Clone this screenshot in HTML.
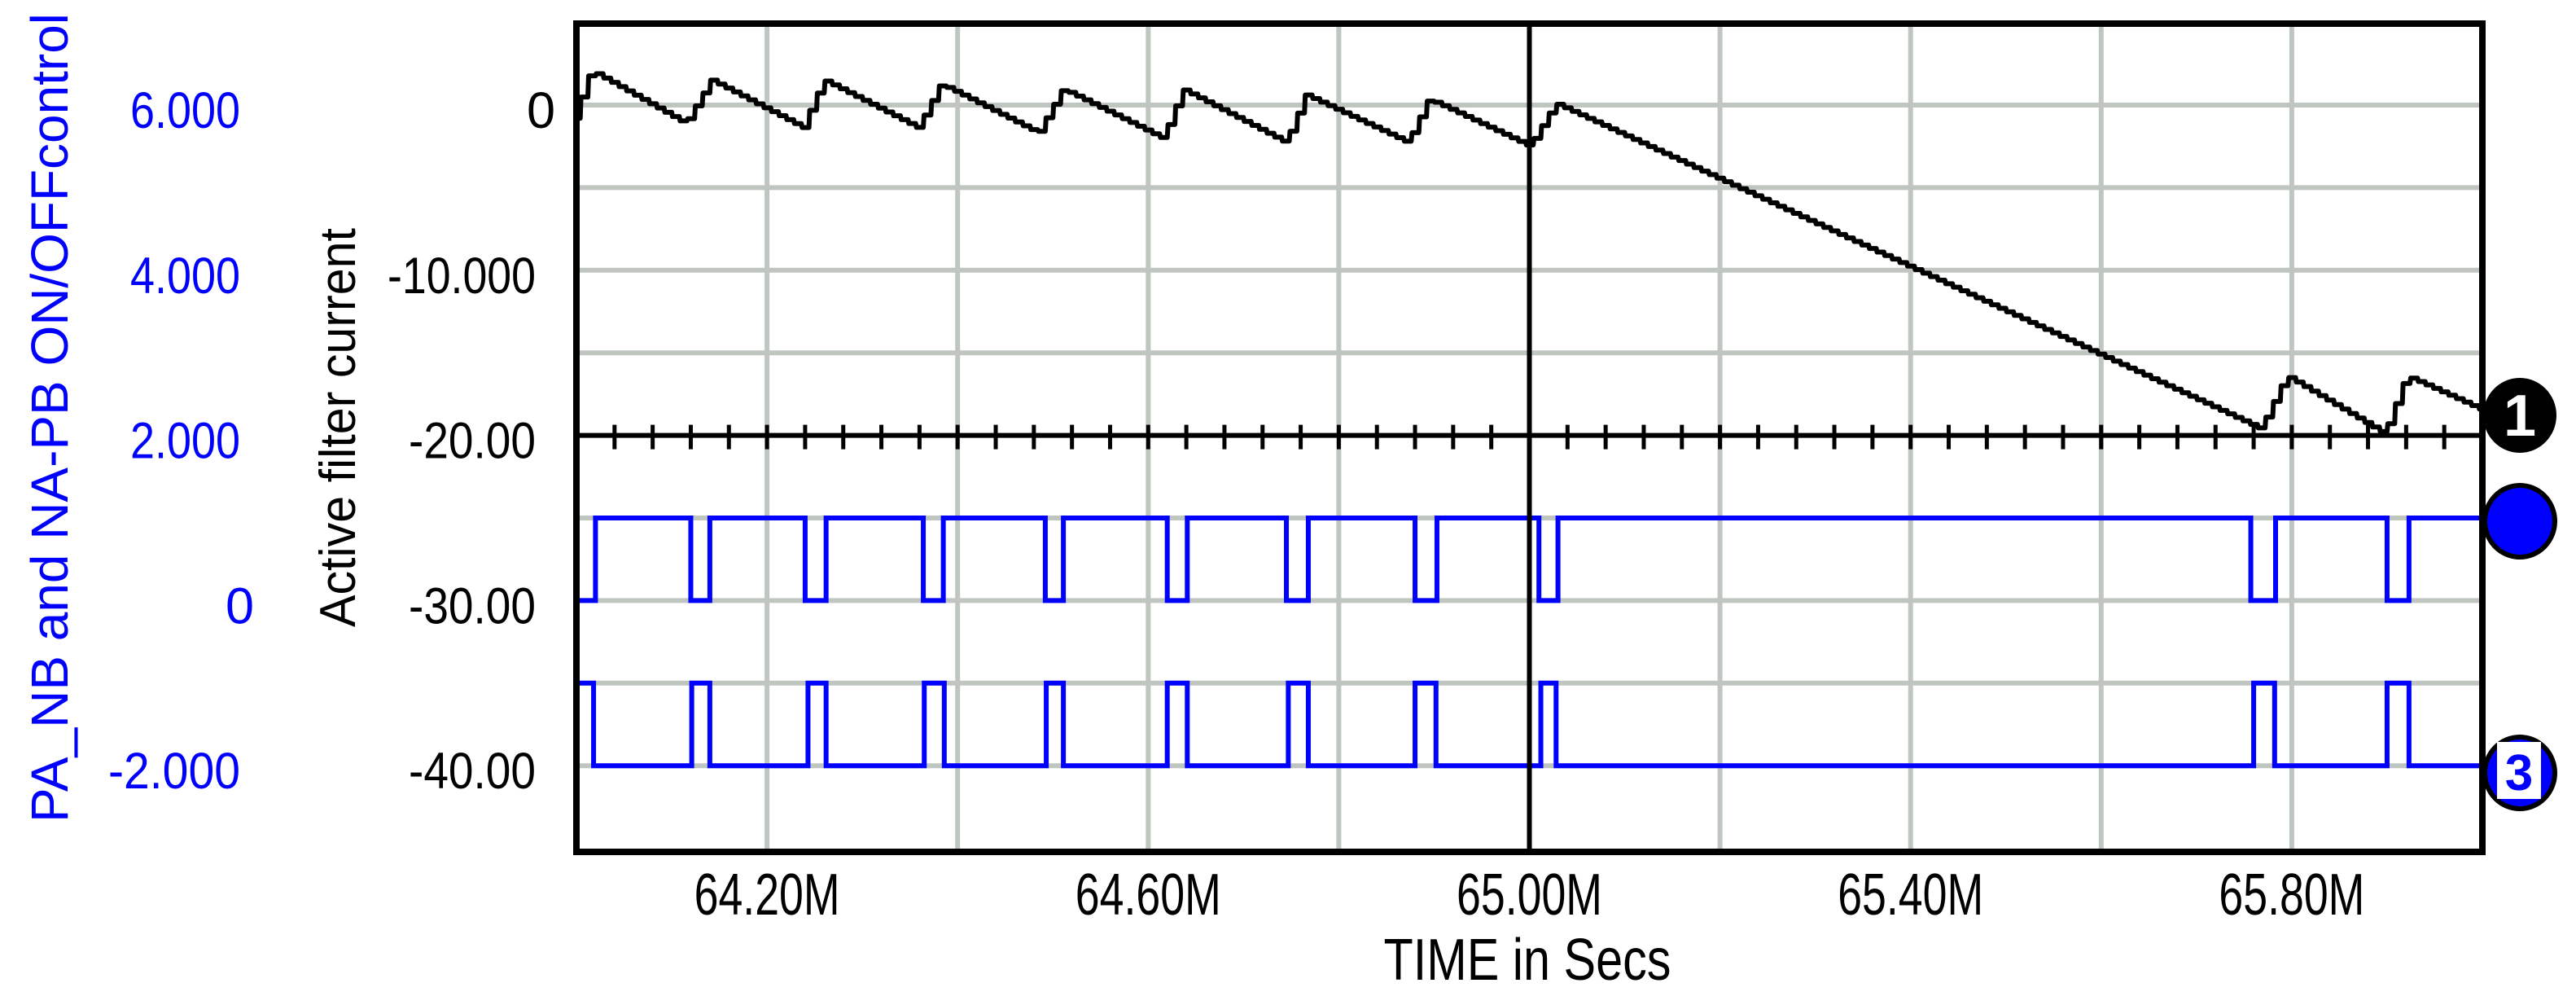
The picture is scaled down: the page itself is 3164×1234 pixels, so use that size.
<!DOCTYPE html>
<html><head><meta charset="utf-8"><style>
html,body{margin:0;padding:0;background:#fff;}
svg{display:block;font-family:"Liberation Sans",Arial,sans-serif;}
</style></head><body>
<svg id="chart" width="3164" height="1234" viewBox="0 0 3164 1234" xmlns="http://www.w3.org/2000/svg">
<g id="grid"></g>
<g id="series"></g>
<g id="axes"></g>
<g id="labels"></g>
<text x="0" y="0" transform="translate(83,513) rotate(-90)" text-anchor="middle" font-size="64" fill="#0000ff" textLength="994" lengthAdjust="spacingAndGlyphs">PA_NB and NA-PB ON/OFFcontrol</text>
<text x="0" y="0" transform="translate(436,525) rotate(-90)" text-anchor="middle" font-size="62" fill="#000" textLength="490" lengthAdjust="spacingAndGlyphs">Active filter current</text>
<text x="1876" y="1203" text-anchor="middle" font-size="72" fill="#000" textLength="353" lengthAdjust="spacingAndGlyphs">TIME in Secs</text>
<g>
<ellipse cx="3095" cy="510" rx="45" ry="46" fill="#000"/>
<text x="3095" y="535" text-anchor="middle" font-size="72" font-weight="bold" fill="#fff">1</text>
</g>
<g>
<ellipse cx="3095" cy="640" rx="43" ry="44" fill="#0000ff" stroke="#000" stroke-width="6"/>
</g>
<g>
<ellipse cx="3095" cy="949" rx="43" ry="44" fill="#0000ff" stroke="#000" stroke-width="6"/>
<rect x="3067" y="911" width="54" height="70" fill="#fff"/>
<text x="3094" y="970" text-anchor="middle" font-size="62" font-weight="bold" fill="#0000ff">3</text>
</g>
</svg>
<script>
// ---- data ----
const xTicks = [64.2, 64.6, 65.0, 65.4, 65.8];
const xTickLabels = ["64.20M", "64.60M", "65.00M", "65.40M", "65.80M"];
const yTicks = [0, -10, -20, -30, -40];
const yTickLabels = ["0", "-10.000", "-20.00", "-30.00", "-40.00"];
const blueTicks = [6, 4, 2, 0, -2];
const blueTickLabels = ["6.000", "4.000", "2.000", "0", "-2.000"];
// Active filter current (black) vertices
const currentTimes = [64.0, 64.018, 64.117, 64.144, 64.240, 64.262, 64.361, 64.385, 64.487, 64.513, 64.618, 64.639, 64.747, 64.768, 64.875, 64.897, 65.003, 65.030, 65.770, 65.797, 65.900, 65.923, 66.0];
const currentValues = [-0.8, 2.09, -1.12, 1.51, -1.36, 1.51, -1.38, 1.27, -1.69, 0.97, -2.02, 0.94, -2.27, 0.61, -2.27, 0.36, -2.5, 0.1, -19.6, -16.4, -19.9, -16.4, -18.4];
// PA_NB control (upper, levels 1 / 0): low intervals
const upperLowStarts = [64.0, 64.120, 64.240, 64.364, 64.492, 64.620, 64.745, 64.880, 65.010, 65.757, 65.900];
const upperLowEnds   = [64.020, 64.140, 64.262, 64.385, 64.511, 64.641, 64.768, 64.903, 65.030, 65.783, 65.923];
// NA-PB control (lower, levels -1 / -2): high intervals
const lowerHighStarts = [64.0, 64.121, 64.243, 64.365, 64.493, 64.620, 64.747, 64.880, 65.012, 65.760, 65.900];
const lowerHighEnds   = [64.018, 64.140, 64.262, 64.386, 64.511, 64.641, 64.768, 64.902, 65.028, 65.782, 65.923];

// ---- scales ----
const L = 708, R = 3049, T = 29, B = 1046;
const X = t => L + (t - 64.0) * (R - L) / 2.0;
const Y = v => 129 - v * 20.28;
const YB = b => Y(-30) - b * 101.4;
const NS = "http://www.w3.org/2000/svg";
function mk(tag, parent, attrs) {
  const e = document.createElementNS(NS, tag);
  for (const k in attrs) e.setAttribute(k, attrs[k]);
  parent.appendChild(e);
  return e;
}
const grid = document.getElementById('grid');
const series = document.getElementById('series');
const axes = document.getElementById('axes');
const labels = document.getElementById('labels');

// grid lines
for (let v = 0; v >= -40; v -= 5) {
  const g = mk('line', grid, {x1: L, x2: R, y1: Y(v), y2: Y(v), stroke: '#bfc6bf', 'stroke-width': 6});
  
  
}
for (let t = 64.2; t < 66.0; t += 0.2) {
  const g = mk('line', grid, {x1: X(t), x2: X(t), y1: T, y2: B, stroke: '#bfc6bf', 'stroke-width': 6});
  
  
}

// black series, rendered as a staircase
function interp(t) {
  for (let i = 0; i < currentTimes.length - 1; i++) {
    if (t >= currentTimes[i] && t <= currentTimes[i + 1]) {
      const f = (t - currentTimes[i]) / (currentTimes[i + 1] - currentTimes[i]);
      return currentValues[i] + f * (currentValues[i + 1] - currentValues[i]);
    }
  }
  return currentValues[currentValues.length - 1];
}
let d = '';
const step = 0.008;
let prevY = Y(interp(64.0));
d = 'M' + X(64.0) + ',' + prevY;
for (let t = 64.0 + step; t <= 66.0001; t += step) {
  const y = Y(interp(Math.min(t, 66.0)));
  d += ' L' + X(t - step * 0.5) + ',' + prevY + ' L' + X(t - step * 0.4) + ',' + y + ' L' + X(Math.min(t, 66.0)) + ',' + y;
  prevY = y;
}
const cur = mk('path', series, {d: d, fill: 'none', stroke: '#000', 'stroke-width': 6, 'stroke-linejoin': 'round'});



// pulse series
function pulsePath(starts, ends, base, pulse) {
  let p = 'M' + X(64.0) + ',' + YB(base);
  for (let i = 0; i < starts.length; i++) {
    p += ' L' + X(starts[i]) + ',' + YB(base) + ' L' + X(starts[i]) + ',' + YB(pulse) +
         ' L' + X(ends[i]) + ',' + YB(pulse) + ' L' + X(ends[i]) + ',' + YB(base);
  }
  p += ' L' + X(66.0) + ',' + YB(base);
  return p;
}
const up = mk('path', series, {d: pulsePath(upperLowStarts, upperLowEnds, 1, 0), fill: 'none', stroke: '#0000ff', 'stroke-width': 6});


const lo = mk('path', series, {d: pulsePath(lowerHighStarts, lowerHighEnds, -2, -1), fill: 'none', stroke: '#0000ff', 'stroke-width': 6});



// zero axis with ticks at -20
const ax = mk('line', axes, {x1: L, x2: R, y1: Y(-20), y2: Y(-20), stroke: '#000', 'stroke-width': 6});


for (let t = 64.04; t < 65.99; t += 0.04) {
  const tk = mk('line', axes, {x1: X(t), x2: X(t), y1: Y(-20) - 13, y2: Y(-20) + 17, stroke: '#000', 'stroke-width': 5});
  
  
}
// cursor
const cursor = mk('line', axes, {x1: X(65.0), x2: X(65.0), y1: T, y2: B, stroke: '#000', 'stroke-width': 6});


// frame
const frame = mk('rect', axes, {x: L, y: T, width: R - L, height: B - T, fill: 'none', stroke: '#000', 'stroke-width': 8});



// tick labels
xTicks.forEach((t, i) => {
  const tx = mk('text', labels, {x: X(t), y: 1123, 'text-anchor': 'middle', 'font-size': 72, fill: '#000', textLength: 179, lengthAdjust: 'spacingAndGlyphs'});
  tx.textContent = xTickLabels[i];
  
  
});
yTicks.forEach((v, i) => {
  const s = yTickLabels[i];
  const w = s.length === 1 ? 30 : (s.length * 26);
  const attrs = {x: s.length === 1 ? 682 : 658, y: Y(v) + 28, 'text-anchor': 'end', 'font-size': 63, fill: '#000'};
  if (s.length > 1) { attrs.textLength = w; attrs.lengthAdjust = 'spacingAndGlyphs'; }
  const tx = mk('text', labels, attrs);
  tx.textContent = s;
  
  
});
blueTicks.forEach((b, i) => {
  const s = blueTickLabels[i];
  const attrs = {x: s.length === 1 ? 312 : 295, y: YB(b) + 28, 'text-anchor': 'end', 'font-size': 63, fill: '#0000ff'};
  if (s.length > 1) { attrs.textLength = s.length * 27; attrs.lengthAdjust = 'spacingAndGlyphs'; }
  const tx = mk('text', labels, attrs);
  tx.textContent = s;
  
  
});
</script>
</body></html>
